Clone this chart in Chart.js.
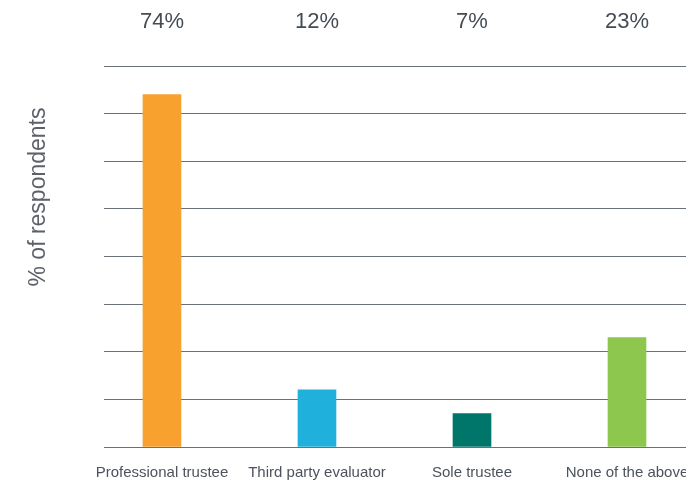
<!DOCTYPE html>
<html>
<head>
<meta charset="utf-8">
<script src="https://cdn.jsdelivr.net/npm/chart.js@4/dist/chart.umd.min.js"></script>
<style>
    html, body { margin: 0; padding: 0; background: #fff; overflow: hidden; }
    #wrap { width: 740px; height: 485px; }
</style>
</head>
<body>
<div id="wrap"><canvas id="chart" width="740" height="485"></canvas></div>
<script>
const categories = ['Professional trustee', 'Third party evaluator', 'Sole trustee', 'None of the above'];
const respondents = [74, 12, 7, 23];
const barColors = ['#f9a12e', '#1fb0db', '#00756a', '#8dc74d'];
const yMax = 80;
const yStep = 10;
const axisTitle = '% of respondents';

// bars sit on a linear x scale so the first column can start inside the grid
const points = respondents.map((v, i) => ({x: i, y: v}));
const categoryTicks = (scale) => {
    scale.ticks = categories.map((c, i) => ({value: i}));
};

// rotated y title, placed above the middle of the grid
const sideTitle = {
    id: 'sideTitle',
    afterDraw(chart) {
        const ctx = chart.ctx;
        ctx.save();
        ctx.translate(45, 197);
        ctx.rotate(-Math.PI / 2);
        ctx.font = '23px "Liberation Sans", Arial, sans-serif';
        ctx.fillStyle = '#5d6169';
        ctx.textAlign = 'center';
        ctx.textBaseline = 'alphabetic';
        ctx.fillText(axisTitle, 0, 0);
        ctx.restore();
    }
};

new Chart(document.getElementById('chart'), {
    type: 'bar',
    data: {
        datasets: [{
            data: points,
            backgroundColor: barColors,
            barThickness: 38,
            borderWidth: 0
        }]
    },
    options: {
        responsive: false,
        animation: false,
        devicePixelRatio: 1,
        layout: {padding: 0},
        plugins: {
            legend: {display: false},
            tooltip: {enabled: false}
        },
        scales: {
            x: {
                type: 'linear',
                position: 'bottom',
                offset: false,
                min: -0.374,
                max: 3.729,
                afterBuildTicks: categoryTicks,
                afterFit: (scale) => { scale.height = 38; },
                grid: {display: false, drawTicks: false, offset: false},
                border: {display: false},
                ticks: {
                    padding: 17,
                    maxRotation: 0,
                    autoSkip: false,
                    color: '#4d535c',
                    font: {family: '"Liberation Sans", Arial, sans-serif', size: 15},
                    callback: (value) => categories[value]
                }
            },
            top: {
                type: 'linear',
                position: 'top',
                offset: false,
                min: -0.374,
                max: 3.729,
                afterBuildTicks: categoryTicks,
                afterFit: (scale) => { scale.height = 66; },
                grid: {display: false, drawTicks: false, offset: false},
                border: {display: false},
                ticks: {
                    padding: 31,
                    maxRotation: 0,
                    autoSkip: false,
                    color: '#454b55',
                    font: {family: '"Liberation Sans", Arial, sans-serif', size: 22},
                    callback: (value) => respondents[value] + '%'
                }
            },
            y: {
                min: 0,
                max: yMax,
                afterFit: (scale) => { scale.width = 104; },
                grid: {color: '#6a707a', lineWidth: 1, drawTicks: false},
                border: {display: false},
                ticks: {display: false, stepSize: yStep}
            }
        }
    },
    plugins: [sideTitle]
});
</script>
</body>
</html>
